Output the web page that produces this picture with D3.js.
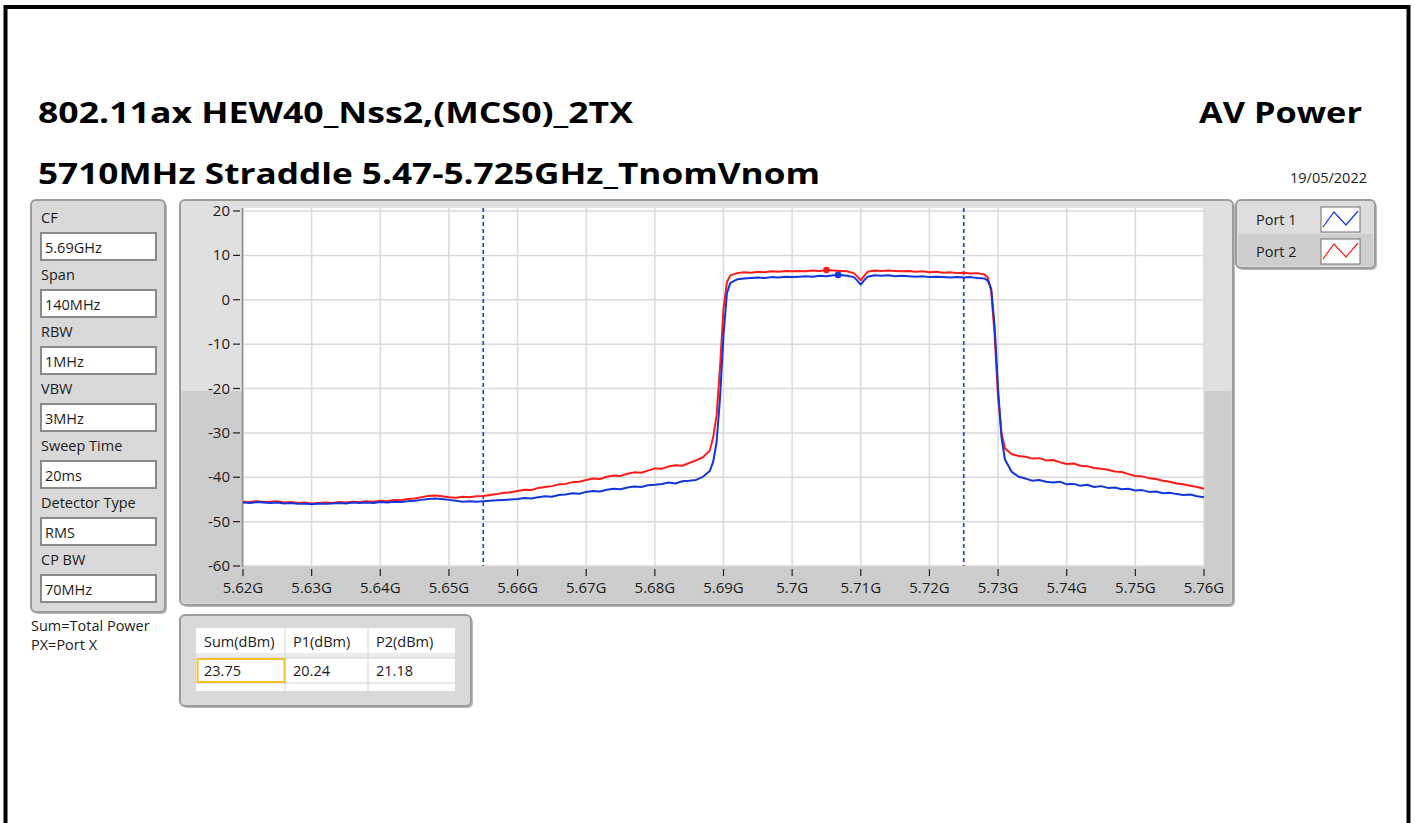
<!DOCTYPE html>
<html><head><meta charset="utf-8">
<script src="https://cdn.jsdelivr.net/npm/d3@7"></script>
<style>body{margin:0;background:#fff;} text{font-family:"Open Sans",sans-serif;fill:#1c1c1c;}</style>
</head><body><svg id="c" width="1415" height="823"></svg>
<script>
// ---------- data ----------
const freqMHz = [
 5620,5621,5622,5623,5624,5625,5626,5627,5628,5629,
 5630,5631,5632,5633,5634,5635,5636,5637,5638,5639,
 5640,5641,5642,5643,5644,5645,5646,5647,5648,5649,
 5650,5651,5652,5653,5654,5655,5656,5657,5658,5659,
 5660,5661,5662,5663,5664,5665,5666,5667,5668,5669,
 5670,5671,5672,5673,5674,5675,5676,5677,5678,5679,
 5680,5681,5682,5683,5684,5685,5686,5687,5688,5688.5,
 5689,5689.5,5690,5690.5,5691,5692,5693,5694,5695,5696,
 5697,5698,5699,5700,5701,5702,5703,5704,5705,5706,
 5707,5708,5709,5709.5,5710,5710.5,5711,5712,5713,5714,
 5715,5716,5717,5718,5719,5720,5721,5722,5723,5724,
 5725,5726,5727,5728,5728.5,5729,5729.5,5730,5730.5,5731,
 5732,5733,5734,5735,5736,5737,5738,5739,5740,5741,
 5742,5743,5744,5745,5746,5747,5748,5749,5750,5751,
 5752,5753,5754,5755,5756,5757,5758,5759,5760
];
const port1 = [
 -45.7,-45.8,-45.6,-45.7,-45.8,-45.7,-45.9,-45.8,-46.0,-45.9,
 -46.1,-45.9,-46.0,-45.9,-45.8,-45.9,-45.7,-45.8,-45.7,-45.8,
 -45.6,-45.7,-45.5,-45.6,-45.4,-45.3,-45.1,-44.9,-44.8,-44.9,
 -45.1,-45.3,-45.5,-45.4,-45.5,-45.4,-45.3,-45.2,-45.1,-45.0,
 -44.9,-44.7,-44.8,-44.5,-44.3,-44.4,-44.0,-43.9,-43.6,-43.7,
 -43.3,-43.1,-43.2,-42.8,-42.6,-42.7,-42.3,-42.1,-42.2,-41.8,
 -41.7,-41.5,-41.2,-41.4,-40.9,-40.8,-40.6,-39.9,-38.6,-36.5,
 -32.0,-22.0,-8.0,1.5,3.8,4.6,4.8,4.9,5.0,4.9,
 5.1,5.0,5.2,5.1,5.2,5.3,5.2,5.4,5.3,5.5,
 5.6,5.4,5.1,4.3,3.4,4.4,5.2,5.5,5.4,5.5,
 5.3,5.4,5.3,5.2,5.3,5.1,5.2,5.1,5.0,5.1,
 5.0,5.1,4.9,4.8,4.3,2.5,-6.0,-20.0,-31.0,-36.0,
 -38.8,-39.9,-40.3,-40.8,-40.6,-41.0,-41.2,-41.0,-41.6,-41.5,
 -41.9,-41.7,-42.2,-42.0,-42.4,-42.3,-42.7,-42.6,-43.0,-42.9,
 -43.3,-43.2,-43.6,-43.5,-43.8,-44.0,-43.9,-44.3,-44.5
];
const port2 = [
 -45.5,-45.6,-45.4,-45.6,-45.5,-45.4,-45.7,-45.6,-45.8,-45.7,
 -45.9,-45.8,-45.7,-45.8,-45.6,-45.7,-45.5,-45.6,-45.4,-45.5,
 -45.3,-45.4,-45.1,-45.2,-44.9,-44.8,-44.5,-44.2,-44.1,-44.3,
 -44.5,-44.6,-44.4,-44.5,-44.3,-44.2,-44.0,-43.8,-43.5,-43.4,
 -43.1,-42.8,-42.9,-42.4,-42.2,-42.0,-41.6,-41.5,-41.1,-41.0,
 -40.6,-40.3,-40.4,-39.9,-39.6,-39.7,-39.2,-38.9,-39.0,-38.5,
 -38.0,-38.1,-37.6,-37.3,-37.4,-36.8,-36.2,-35.5,-34.0,-31.0,
 -26.0,-15.0,-2.0,4.0,5.5,6.0,6.2,6.1,6.3,6.2,
 6.4,6.3,6.5,6.4,6.5,6.4,6.6,6.5,6.7,6.6,
 6.5,6.4,6.0,5.2,4.4,5.4,6.3,6.6,6.5,6.6,
 6.5,6.4,6.5,6.3,6.4,6.2,6.3,6.1,6.2,6.0,
 6.1,5.9,6.0,5.7,5.0,2.0,-8.0,-22.0,-30.0,-33.5,
 -34.8,-35.2,-35.4,-35.8,-35.7,-36.2,-36.1,-36.6,-37.0,-36.9,
 -37.4,-37.5,-37.9,-38.1,-38.3,-38.7,-38.8,-39.3,-39.7,-39.8,
 -40.2,-40.4,-40.8,-41.0,-41.4,-41.6,-41.9,-42.2,-42.6
];
const markerFreq = [5706.7, 5705.0];   // port1, port2
const markerLevel = [5.6, 6.7];
const limitFreqs = [5655, 5725];
const xTicks = [5620,5630,5640,5650,5660,5670,5680,5690,5700,5710,5720,5730,5740,5750,5760];
const yTicks = [20,10,0,-10,-20,-30,-40,-50,-60];
const seriesNames = ["Port 1", "Port 2"];
const paramLabels = ["CF","Span","RBW","VBW","Sweep Time","Detector Type","CP BW"];
const paramValues = ["5.69GHz","140MHz","1MHz","3MHz","20ms","RMS","70MHz"];
const tableHeaders = ["Sum(dBm)","P1(dBm)","P2(dBm)"];
const tableValues = ["23.75","20.24","21.18"];
const title1 = "802.11ax HEW40_Nss2,(MCS0)_2TX";
const title2 = "5710MHz Straddle 5.47-5.725GHz_TnomVnom";
const titleRight = "AV Power";
const dateText = "19/05/2022";
const notes = ["Sum=Total Power","PX=Port X"];

// ---------- drawing ----------
const svg = d3.select("#c");
const BLUE = "#1236d8", RED = "#ff1a1a";
const colors = [BLUE, RED];

// outer frame
svg.append("rect").attr("x",5.5).attr("y",7).attr("width",1403).attr("height",830)
  .attr("fill","none").attr("stroke","#000").attr("stroke-width",4);

// titles
function fitText(t, x, y, len, size, anchor){
  svg.append("text").attr("x",x).attr("y",y).attr("font-size",size).attr("font-weight","700")
    .attr("text-anchor",anchor||"start").attr("textLength",len).attr("lengthAdjust","spacingAndGlyphs")
    .style("fill","#000").text(t);
}
fitText(title1, 38, 123, 595, 29);
fitText(title2, 38, 184, 782, 29);
fitText(titleRight, 1199, 123, 163, 29);
svg.append("text").attr("x",1367).attr("y",183).attr("text-anchor","end").attr("font-size",14.5).text(dateText);

// generic panel
function panel(x,y,w,h,split,top,bot){
  svg.append("rect").attr("x",x+2).attr("y",y+2).attr("width",w).attr("height",h).attr("rx",5)
    .attr("fill","#b9b9b9");
  svg.append("rect").attr("x",x).attr("y",y).attr("width",w).attr("height",h).attr("rx",5)
    .attr("fill",top).attr("stroke","#9c9c9c").attr("stroke-width",2);
  if(split!=null){
    svg.append("rect").attr("x",x+1.5).attr("y",split).attr("width",w-3).attr("height",y+h-split-1.5)
      .attr("fill",bot);
  }
}

// left parameter panel
panel(31,200,134,412,null,"#d9d9d9");
paramLabels.forEach((l,i)=>{
  const by = 233 + i*57;
  svg.append("text").attr("x",41).attr("y",by-10).attr("font-size",14.5).text(l);
  svg.append("rect").attr("x",41).attr("y",by).attr("width",115).attr("height",27)
    .attr("fill","#fff").attr("stroke","#8a8a8a").attr("stroke-width",2);
  svg.append("text").attr("x",45).attr("y",by+20).attr("font-size",14.5).text(paramValues[i]);
});
notes.forEach((n,i)=>svg.append("text").attr("x",31).attr("y",631+i*19).attr("font-size",14.5).text(n));

// graph panel
panel(180,200,1053,405,391,"#e0e0e0","#cdcdcd");

const x = d3.scaleLinear().domain([5620,5760]).range([243,1204]);
const y = d3.scaleLinear().domain([-60,20]).range([566,211]);

svg.append("rect").attr("x",243).attr("y",208).attr("width",961).attr("height",358).attr("fill","#fff");

const g = svg.append("g");
g.selectAll(".gx").data(xTicks).join("line")
  .attr("x1",d=>x(d)).attr("x2",d=>x(d)).attr("y1",208).attr("y2",566)
  .attr("stroke","#dadada").attr("stroke-width",1.5);
g.selectAll(".gy").data(yTicks).join("line")
  .attr("x1",243).attr("x2",1204).attr("y1",d=>y(d)).attr("y2",d=>y(d))
  .attr("stroke","#dadada").attr("stroke-width",1.5);

// axis line
svg.append("line").attr("x1",242.5).attr("x2",242.5).attr("y1",208).attr("y2",567)
  .attr("stroke","#8c8c8c").attr("stroke-width",1.5);

// y ticks
const ya = svg.append("g");
yTicks.forEach(v=>{
  ya.append("line").attr("x1",233).attr("x2",240).attr("y1",y(v)).attr("y2",y(v)).attr("stroke","#222").attr("stroke-width",1.2);
  ya.append("text").attr("x",230).attr("y",y(v)+5).attr("text-anchor","end").attr("font-size",15).text(v);
});
// x ticks
const xa = svg.append("g");
xTicks.forEach(v=>{
  xa.append("line").attr("x1",x(v)).attr("x2",x(v)).attr("y1",569).attr("y2",576).attr("stroke","#222").attr("stroke-width",1.2);
  xa.append("text").attr("x",x(v)).attr("y",593).attr("text-anchor","middle").attr("font-size",15).text((v/1000)+"G");
});

// limit lines
limitFreqs.forEach(f=>{
  svg.append("line").attr("x1",x(f)).attr("x2",x(f)).attr("y1",208).attr("y2",566)
    .attr("stroke","#1f45e6").attr("stroke-width",1.7).attr("stroke-dasharray","4,3");
});

// traces
const line = d3.line().x((d,i)=>x(freqMHz[i])).y(d=>y(d));
[port2, port1].forEach((s,k)=>{
  svg.append("path").datum(s).attr("d",line).attr("fill","none")
    .attr("stroke", k===0?RED:BLUE).attr("stroke-width",2).attr("stroke-linejoin","round");
});
// markers
[1,0].forEach(i=>{
  svg.append("circle").attr("cx",x(markerFreq[i])).attr("cy",y(markerLevel[i])).attr("r",3.3).attr("fill",colors[i]);
});

// legend
panel(1236,200,139,68,null,"#dddddd");
svg.append("rect").attr("x",1238).attr("y",234).attr("width",135).attr("height",32).attr("fill","#cecece");
seriesNames.forEach((n,i)=>{
  const ry = 207 + i*32;
  svg.append("text").attr("x",1256).attr("y",ry+18).attr("font-size",14.5).text(n);
  svg.append("rect").attr("x",1321).attr("y",ry).attr("width",39).attr("height",25)
    .attr("fill","#fff").attr("stroke","#6e6e6e").attr("stroke-width",1);
  const pts = [[1323,ry+20],[1334,ry+5],[1346,ry+18],[1358,ry+4]];
  svg.append("path").attr("d",d3.line()(pts)).attr("fill","none").attr("stroke",colors[i]).attr("stroke-width",1.2);
});

// results table
panel(180,615,291,91,null,"#d9d9d9");
svg.append("rect").attr("x",196).attr("y",628).attr("width",259).attr("height",63).attr("fill","#fff");
svg.append("rect").attr("x",196).attr("y",653).attr("width",259).attr("height",5).attr("fill","#ececec");
const colX = [196,285,368,455];
[658,683].forEach(ly=>svg.append("line").attr("x1",196).attr("x2",455).attr("y1",ly).attr("y2",ly).attr("stroke","#d2d2d2"));
[285,368].forEach(lx=>svg.append("line").attr("x1",lx).attr("x2",lx).attr("y1",628).attr("y2",691).attr("stroke","#d2d2d2"));
svg.append("rect").attr("x",197.5).attr("y",659).attr("width",87).attr("height",23)
  .attr("fill","none").attr("stroke","#f2c230").attr("stroke-width",2);
tableHeaders.forEach((h,i)=>{
  svg.append("text").attr("x",colX[i]+8).attr("y",647).attr("font-size",14.5).text(h);
  svg.append("text").attr("x",colX[i]+8).attr("y",676).attr("font-size",14.5).text(tableValues[i]);
});
</script></body></html>
